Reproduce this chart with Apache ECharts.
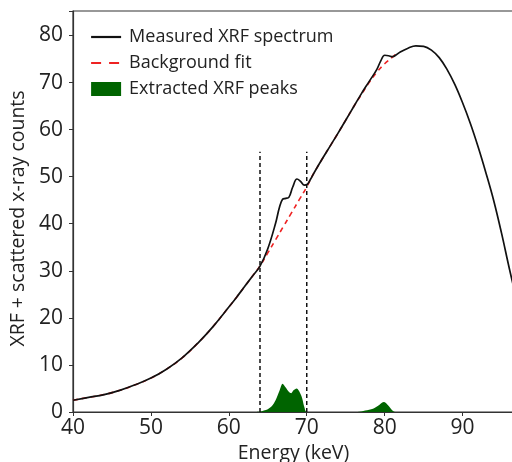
<!DOCTYPE html>
<html>
<head>
<meta charset="utf-8">
<script src="https://cdn.jsdelivr.net/npm/echarts@6/dist/echarts.min.js"></script>
<style>html,body{margin:0;padding:0;background:#fff}#c{width:512px;height:462px}</style>
</head>
<body>
<div id="c"></div>
<script>
// Measured XRF spectrum (energy keV, counts)
var measuredE = [40,42,44,46,48,50,52,54,56,58,60,61,62,63,64,65,66,66.5,66.9,67.3,67.7,68.2,68.75,69.2,69.7,70.1,70.5,71,72,73,74,75,76,77,78,79,79.5,80,80.5,81,81.5,82,83,84,85,86,87,88,89,90,91,92,93,94,95,96,97];
var measuredY = [2.5,3.1,3.7,4.6,5.8,7.2,9.1,11.5,14.6,18.2,22.3,24.4,26.6,28.8,31.0,34.7,40.1,43.5,45.2,45.4,45.6,47.8,49.5,49.0,48.2,48.4,49.5,51.0,53.8,56.5,59.2,62.0,64.8,67.6,70.2,72.8,74.6,75.8,75.7,75.5,75.9,76.5,77.3,77.8,77.7,76.9,75.3,72.8,69.6,65.7,61.3,56.3,50.8,44.9,38.0,30.5,23.5];
// Background fit
var bgE = [40,42,44,46,48,50,52,54,56,58,60,61,62,63,64,65,66,67,68,69,70,70.5,71,72,73,74,75,76,77,78,79,80,81,81.4];
var bgY = [2.5,3.1,3.7,4.6,5.8,7.2,9.1,11.5,14.6,18.2,22.3,24.4,26.6,28.8,31.0,33.8,36.6,39.4,42.2,45.0,47.8,49.5,51.0,53.8,56.5,59.2,62.0,64.8,67.4,70.0,72.2,74.0,75.4,76.0];
// Extracted XRF peaks
var peakE = [63.5,64,65,65.5,66,66.5,66.9,67.3,67.7,68,68.3,68.7,69,69.4,69.7,70,76.5,77.5,78.5,79.3,79.9,80.4,81,81.3];
var peakY = [0,0.1,0.6,1.2,2.5,4.5,6.0,5.2,4.3,4.0,4.6,5.0,4.5,3.0,1.0,0,0,0.3,0.7,1.5,2.1,1.5,0.3,0];
// Integration window
var windowE = [64,70];
var windowTop = 55.3;
var xTicks = [40,50,60,70,80,90];
var yTicks = [0,10,20,30,40,50,60,70,80];

function pairs(xs, ys){ return xs.map(function(x,i){ return [x, ys[i]]; }); }

var FONT = '"Open Sans", "DejaVu Sans", sans-serif';
var chart = echarts.init(document.getElementById('c'), null, {renderer:'canvas'});
var series = [
  { name:'Extracted XRF peaks', type:'line', data:pairs(peakE, peakY), smooth:0.3, symbol:'none',
    lineStyle:{width:0, color:'#006400'}, itemStyle:{color:'#006400'}, areaStyle:{color:'#006400', opacity:1}, z:2 },
  { name:'Background fit', type:'line', data:pairs(bgE, bgY), smooth:0.4, symbol:'none',
    lineStyle:{color:'#ee2222', width:1.6, type:[5,4]}, itemStyle:{color:'#ee2222'}, z:3 },
  { name:'Measured XRF spectrum', type:'line', data:pairs(measuredE, measuredY), smooth:0.4, symbol:'none',
    lineStyle:{color:'#111', width:1.7}, itemStyle:{color:'#111'}, z:4 }
];
windowE.forEach(function(e){
  series.push({ type:'line', data:[[e,0],[e,windowTop]], symbol:'none', silent:true,
    lineStyle:{color:'#111', width:1.5, type:[4,3]}, z:5 });
});
chart.setOption({
  animation:false,
  backgroundColor:'#fff',
  grid:{left:73, top:11, right:-2, bottom:50, show:true, borderColor:'#333', borderWidth:1.2,
    outerBoundsMode:'none', containLabel:false},
  legend:{
    orient:'vertical', left:90, top:28, padding:0, itemWidth:30, itemHeight:14, itemGap:8,
    data:[
      {name:'Measured XRF spectrum', itemStyle:{opacity:0}, lineStyle:{width:2.2}},
      {name:'Background fit', itemStyle:{opacity:0}, lineStyle:{width:2.2, type:[10,8]}},
      {name:'Extracted XRF peaks', icon:'rect'}
    ],
    textStyle:{fontFamily:FONT, fontSize:18, color:'#222', padding:[0,0,0,3]}
  },
  xAxis:{ type:'value', min:40, max:96.6, interval:10,
    name:'Energy (keV)', nameLocation:'middle', nameGap:29,
    nameTextStyle:{fontFamily:FONT, fontSize:19.5, color:'#222'},
    axisLine:{lineStyle:{color:'#333', width:1.2}},
    axisTick:{length:4, lineStyle:{color:'#333'}},
    axisLabel:{fontFamily:FONT, fontSize:21, color:'#222', margin:6,
      formatter:function(v){ return xTicks.indexOf(v) >= 0 ? String(v) : ''; }},
    splitLine:{show:false} },
  yAxis:{ type:'value', min:0, max:85.2, interval:10,
    name:'XRF + scattered x-ray counts', nameLocation:'middle', nameGap:44,
    nameTextStyle:{fontFamily:FONT, fontSize:19.5, color:'#222', padding:[0,14,0,0]},
    axisLine:{show:true, lineStyle:{color:'#333', width:1.2}},
    axisTick:{show:true, length:4, lineStyle:{color:'#333'}},
    axisLabel:{fontFamily:FONT, fontSize:21, color:'#222', margin:10,
      formatter:function(v){ return yTicks.indexOf(v) >= 0 ? String(v) : ''; }},
    splitLine:{show:false} },
  series:series
});
</script>
</body>
</html>
